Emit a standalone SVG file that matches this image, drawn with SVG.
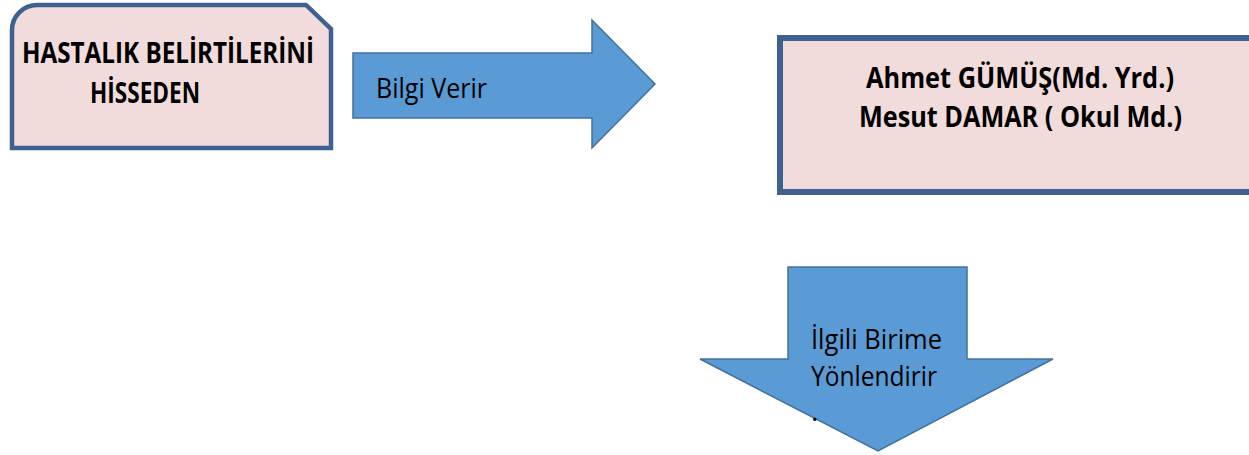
<svg xmlns="http://www.w3.org/2000/svg" width="1249" height="455" viewBox="0 0 1249 455">
<style>
.box{fill:#F2DCDB;stroke:#3F6191;}
.arr{fill:#5B9BD5;stroke:#41719C;stroke-width:1.5;stroke-linejoin:miter;}
.tb{font-family:"Open Sans","Liberation Sans",sans-serif;font-weight:bold;font-size:28px;fill:#000;}
.tr{font-family:"Open Sans","Liberation Sans",sans-serif;font-size:28px;fill:#000;}
</style>
<rect width="1249" height="455" fill="#fff"/>
<g id="node-hisseden">
<path class="box" stroke-width="4.5" d="M12,30 A25,25 0 0 1 37,5 L306,5 L331,29 L331,148 L12,148 Z"/>
<text class="tb" x="22" y="63" textLength="292" lengthAdjust="spacingAndGlyphs">HASTALIK BELİRTİLERİNİ</text>
<text class="tb" x="90" y="103" textLength="110" lengthAdjust="spacingAndGlyphs">HİSSEDEN</text>
</g>
<g id="node-mudur">
<rect class="box" stroke-width="6" x="780" y="38" width="480" height="154"/>
<text class="tb" x="866" y="88" textLength="308" lengthAdjust="spacingAndGlyphs">Ahmet GÜMÜŞ(Md. Yrd.)</text>
<text class="tb" x="859" y="127" textLength="323" lengthAdjust="spacingAndGlyphs">Mesut DAMAR ( Okul Md.)</text>
</g>
<g id="connectors">
<g id="arrow-bilgi">
<path class="arr" d="M353,53 L592,53 L592,20 L655,84 L592,148 L592,118 L353,118 Z"/>
<text class="tr" x="376" y="98" textLength="111" lengthAdjust="spacingAndGlyphs">Bilgi Verir</text>
</g>
<g id="arrow-yonlendir">
<path class="arr" d="M788,267 L967,267 L967,359 L1053,359 L878,451 L700,359 L788,359 Z"/>
<text class="tr" x="811" y="349" textLength="131" lengthAdjust="spacingAndGlyphs">İlgili Birime</text>
<text class="tr" x="811" y="386" textLength="126" lengthAdjust="spacingAndGlyphs">Yönlendirir</text>
<text class="tr" x="811" y="421">.</text>
</g>
</g>
</svg>
